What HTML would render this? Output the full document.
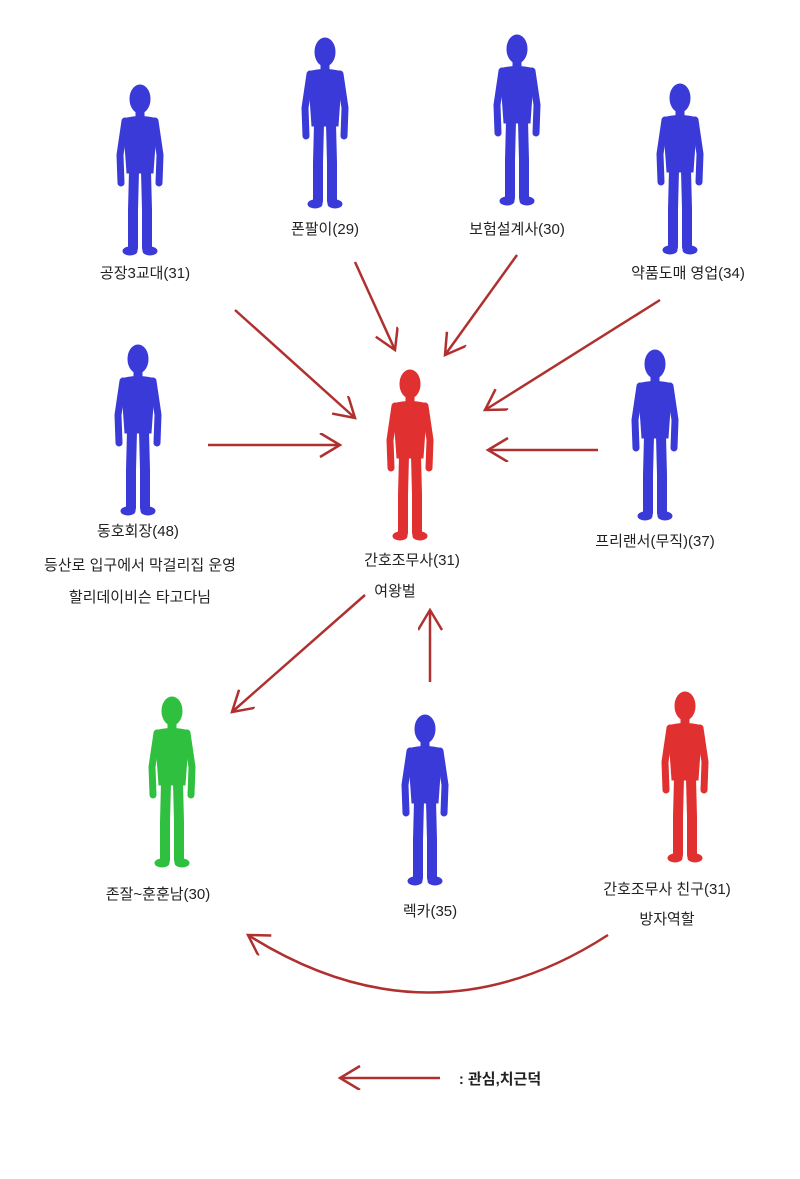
<!DOCTYPE html>
<html><head><meta charset="utf-8"><style>
body{margin:0;background:#fff;width:800px;height:1174px;overflow:hidden}
.t{font-family:"Liberation Sans","Noto Sans CJK KR",sans-serif;font-size:15px;fill:#222;text-anchor:middle}
</style></head><body>
<svg width="800" height="1174" viewBox="0 0 800 1174">
<defs>
<g id="fig">
<ellipse cx="30" cy="14" rx="10" ry="14"/>
<rect x="26" y="24" width="8" height="10"/>
<path d="M13 34 Q30 29 47 34 L45 60 L43 88 L17 88 L15 60 Z"/>
<path d="M15 36 L10 70 L11 98" stroke-width="7" stroke-linecap="round" fill="none"/>
<path d="M45 36 L50 70 L49 98" stroke-width="7" stroke-linecap="round" fill="none"/>
<path d="M24 86 L23 125 L23 163" stroke-width="10" stroke-linecap="round" fill="none"/>
<path d="M36 86 L37 125 L37 163" stroke-width="10" stroke-linecap="round" fill="none"/>
<ellipse cx="20" cy="166" rx="7" ry="4"/><ellipse cx="40" cy="166" rx="7" ry="4"/>
</g>
<marker id="ah" markerWidth="30" markerHeight="30" refX="22" refY="12" orient="auto" markerUnits="userSpaceOnUse">
<path d="M2 0 L22 12 L2 24" fill="none" stroke="#b03030" stroke-width="2.5"/>
</marker>
</defs>
<g fill="#3a3ad8" stroke="#3a3ad8">
<use href="#fig" transform="translate(110,85)"/>
<use href="#fig" transform="translate(295,38)"/>
<use href="#fig" transform="translate(487,35)"/>
<use href="#fig" transform="translate(650,84)"/>
<use href="#fig" transform="translate(108,345)"/>
<use href="#fig" transform="translate(625,350)"/>
<use href="#fig" transform="translate(395,715)"/>
</g>
<g fill="#e03030" stroke="#e03030">
<use href="#fig" transform="translate(380,370)"/>
<use href="#fig" transform="translate(655,692)"/>
</g>
<g fill="#30c040" stroke="#30c040"><use href="#fig" transform="translate(142,697)"/></g>
<g stroke="#b03030" stroke-width="2.5" fill="none" marker-end="url(#ah)">
<line x1="235" y1="310" x2="355" y2="418"/>
<line x1="355" y1="262" x2="395" y2="350"/>
<line x1="517" y1="255" x2="445" y2="355"/>
<line x1="660" y1="300" x2="485" y2="410"/>
<line x1="208" y1="445" x2="340" y2="445"/>
<line x1="598" y1="450" x2="488" y2="450"/>
<line x1="430" y1="682" x2="430" y2="610"/>
<line x1="365" y1="595" x2="232" y2="712"/>
<path d="M608 935 Q430 1050 248 935"/>
<line x1="440" y1="1078" x2="340" y2="1078"/>
</g>
<text class="t" x="145" y="278">공장3교대(31)</text>
<text class="t" x="325" y="234">폰팔이(29)</text>
<text class="t" x="517" y="234">보험설계사(30)</text>
<text class="t" x="688" y="278">약품도매 영업(34)</text>
<text class="t" x="138" y="536">동호회장(48)</text>
<text class="t" x="140" y="570">등산로 입구에서 막걸리집 운영</text>
<text class="t" x="140" y="602">할리데이비슨 타고다님</text>
<text class="t" x="412" y="565">간호조무사(31)</text>
<text class="t" x="395" y="596">여왕벌</text>
<text class="t" x="655" y="546">프리랜서(무직)(37)</text>
<text class="t" x="158" y="899">존잘~훈훈남(30)</text>
<text class="t" x="430" y="916">렉카(35)</text>
<text class="t" x="667" y="894">간호조무사 친구(31)</text>
<text class="t" x="667" y="924">방자역할</text>
<text class="t" x="500" y="1084" style="font-weight:bold">: 관심,치근덕</text>
</svg>
</body></html>
